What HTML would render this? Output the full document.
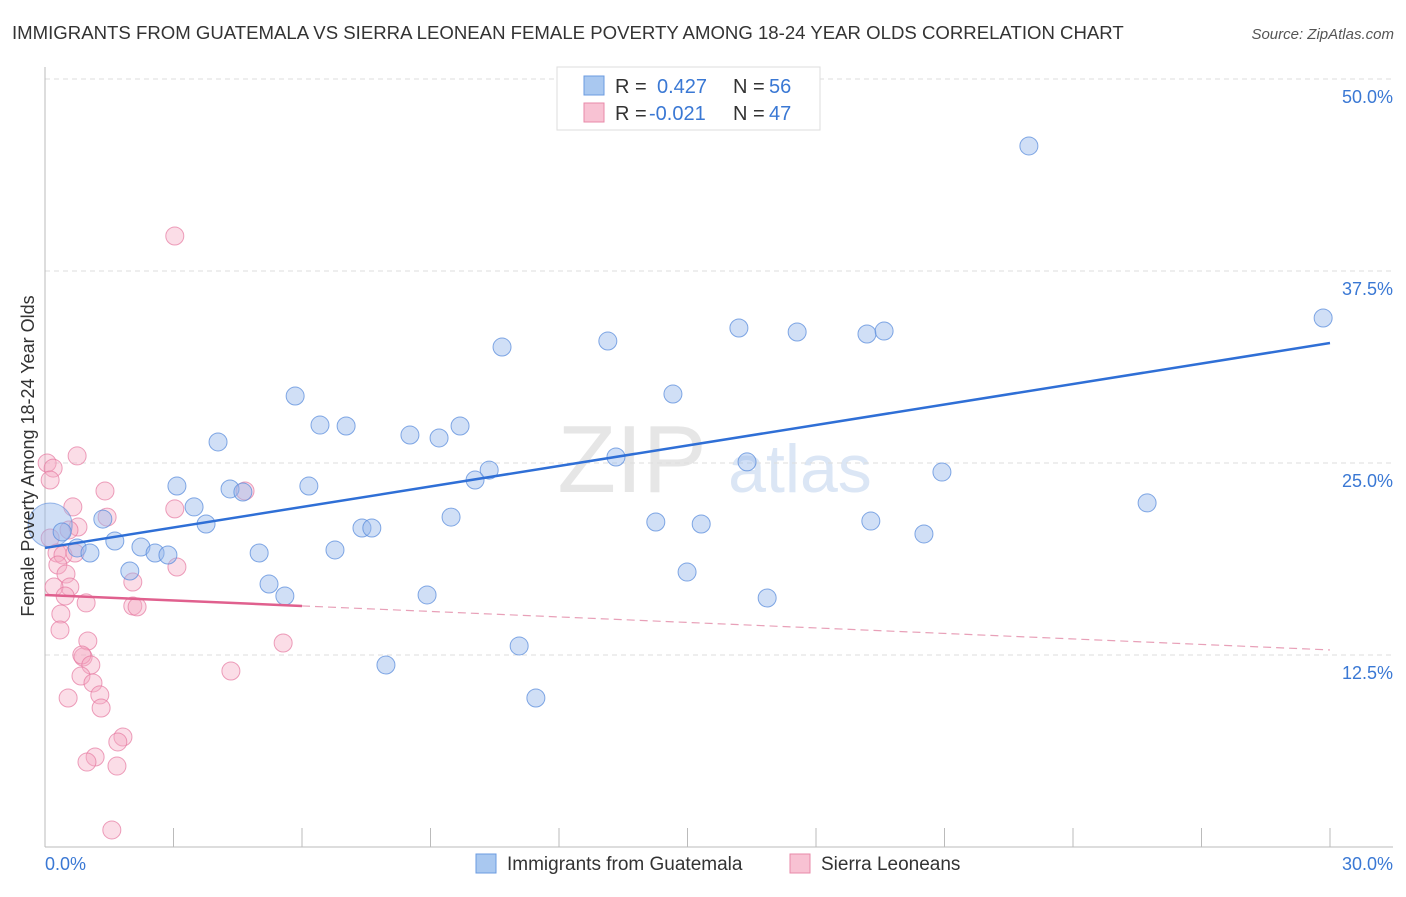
<!DOCTYPE html>
<html><head><meta charset="utf-8"><style>
body{margin:0;background:#fff;font-family:"Liberation Sans",sans-serif}
svg text{font-family:"Liberation Sans",sans-serif}
</style></head><body>
<svg id="chart" width="1406" height="892">
<text x="12" y="39" font-size="18.6" fill="#333">IMMIGRANTS FROM GUATEMALA VS SIERRA LEONEAN FEMALE POVERTY AMONG 18-24 YEAR OLDS CORRELATION CHART</text>
<text x="1394" y="39" font-size="15" fill="#555" font-style="italic" text-anchor="end">Source: ZipAtlas.com</text>
<text x="632" y="492" font-size="96" fill="#e6e6e6" font-family="Liberation Serif" text-anchor="middle">ZIP</text>
<text x="800" y="492" font-size="68" fill="#dbe6f5" text-anchor="middle">atlas</text>
<g id="grid"></g>
<g id="axes"></g>
<g id="marks"></g>
<text transform="translate(34,456) rotate(-90)" font-size="18" fill="#333" text-anchor="middle">Female Poverty Among 18-24 Year Olds</text>
<g>
<rect x="557" y="67" width="263" height="63" fill="#fff" stroke="#ddd"/>
<rect x="584" y="76" width="20" height="19" fill="#a9c8f0" stroke="#6b9be0"/>
<text x="615" y="93" font-size="20" fill="#333">R =</text>
<text x="657" y="93" font-size="20" fill="#3a78d4">0.427</text>
<text x="733" y="93" font-size="20" fill="#333">N =</text>
<text x="769" y="93" font-size="20" fill="#3a78d4">56</text>
<rect x="584" y="103" width="20" height="19" fill="#f8c2d3" stroke="#e88aa8"/>
<text x="615" y="120" font-size="20" fill="#333">R =</text>
<text x="649" y="120" font-size="20" fill="#3a78d4">-0.021</text>
<text x="733" y="120" font-size="20" fill="#333">N =</text>
<text x="769" y="120" font-size="20" fill="#3a78d4">47</text>
</g>
<g>
<rect x="476" y="854" width="20" height="19" fill="#a9c8f0" stroke="#6b9be0"/>
<text x="507" y="870" font-size="19" fill="#333">Immigrants from Guatemala</text>
<rect x="790" y="854" width="20" height="19" fill="#f8c2d3" stroke="#e88aa8"/>
<text x="821" y="870" font-size="19" fill="#333">Sierra Leoneans</text>
</g>
</svg>
<script>
const yTicks=[12.5,25.0,37.5,50.0];
const xTickLabels=["0.0%","30.0%"];
const blueX=[22.97,29.84,16.20,17.56,19.19,19.59,13.14,10.67,14.66,5.84,6.42,7.03,9.69,8.52,9.20,4.04,13.33,16.39,20.94,10.37,10.04,3.08,6.16,4.32,4.62,3.48,25.73,1.35,3.76,9.48,14.26,15.32,19.28,7.40,7.63,20.52,0.40,1.63,2.24,2.57,2.87,0.75,1.05,5.00,6.77,1.98,14.99,5.23,5.60,8.92,16.86,11.07,7.96,11.46];
const blueY=[45.64,34.44,33.79,33.53,33.40,33.59,32.94,32.55,29.49,29.36,27.47,27.41,27.41,26.82,26.63,26.37,25.39,25.07,24.41,24.54,23.89,23.50,23.50,23.31,23.11,22.14,22.40,21.35,21.03,21.48,21.16,21.03,21.22,20.77,20.77,20.38,20.51,19.92,19.53,19.14,19.01,19.47,19.14,19.14,19.34,17.97,17.90,17.12,16.34,16.41,16.21,13.09,11.85,9.70];
const pinkX=[3.03,0.05,0.19,0.12,0.75,1.40,0.65,1.45,0.77,3.03,4.67,0.56,0.12,0.28,0.42,0.70,0.30,0.49,0.58,0.21,0.47,0.96,2.05,3.08,2.05,2.15,0.37,0.35,1.00,0.89,0.86,1.07,0.84,1.12,0.54,1.28,1.31,5.56,4.34,1.82,1.70,1.17,0.98,1.68,1.56];
const pinkY=[39.78,25.00,24.67,23.89,25.46,23.18,22.14,21.48,20.83,22.01,23.18,20.64,20.12,19.14,19.01,19.14,18.36,17.77,16.93,16.93,16.34,15.89,17.25,18.23,15.69,15.63,15.17,14.13,13.41,12.37,12.50,11.85,11.13,10.68,9.70,9.90,9.05,13.28,11.46,7.16,6.84,5.86,5.53,5.27,1.11];
const blueTrend=[19.47,32.81];
const pinkTrend=[16.41,12.83];
const pinkSolidEnd=[6.0];
const bigBlue=[[0.12,20.96]];
const NS="http://www.w3.org/2000/svg";
const sx=v=>45+v/30*1285, sy=v=>847-v/50*768;
function mk(t,a,p){const e=document.createElementNS(NS,t);for(const k in a)e.setAttribute(k,a[k]);p.appendChild(e);return e;}
const grid=document.getElementById('grid'),axes=document.getElementById('axes'),marks=document.getElementById('marks');
yTicks.forEach(t=>{
 const l=mk('line',{x1:45,x2:1393,y1:sy(t),y2:sy(t),stroke:'#ddd','stroke-dasharray':'5,4'},grid);
 
 
 const tx=mk('text',{x:1393,y:sy(t)+24,'font-size':18,fill:'#3a78d4','text-anchor':'end'},axes);
 tx.textContent=t.toFixed(1)+'%';
 
 
});
mk('line',{x1:45,x2:45,y1:67,y2:847,stroke:'#bbb'},axes);
mk('line',{x1:45,x2:1393,y1:847,y2:847,stroke:'#bbb'},axes);
for(let i=0;i<=10;i++){const x=sx(i*3);mk('line',{x1:x,x2:x,y1:828,y2:847,stroke:'#bbb'},axes);}
xTickLabels.forEach((s,i)=>{
 const tx=mk('text',{x:i?1393:45,y:870,'font-size':18,fill:'#3a78d4','text-anchor':i?'end':'start'},axes);
 tx.textContent=s;
 
 
});
pinkX.forEach((x,i)=>{
 const c=mk('circle',{cx:sx(x),cy:sy(pinkY[i]),r:9,fill:'rgba(245,170,195,0.4)',stroke:'rgba(230,120,160,0.7)'},marks);
 
 
});
bigBlue.forEach(p=>{
 const c=mk('circle',{cx:sx(p[0]),cy:sy(p[1]),r:22,fill:'rgba(150,185,235,0.45)',stroke:'rgba(90,140,220,0.6)'},marks);
 
 
});
blueX.forEach((x,i)=>{
 const c=mk('circle',{cx:sx(x),cy:sy(blueY[i]),r:9,fill:'rgba(150,185,235,0.45)',stroke:'rgba(90,140,220,0.75)'},marks);
 
 
});
const pAt=x=>pinkTrend[0]+(pinkTrend[1]-pinkTrend[0])*x/30;
let l=mk('line',{x1:sx(0),y1:sy(blueTrend[0]),x2:sx(30),y2:sy(blueTrend[1]),stroke:'#2f6fd6','stroke-width':2.5},marks);


l=mk('line',{x1:sx(0),y1:sy(pAt(0)),x2:sx(pinkSolidEnd[0]),y2:sy(pAt(pinkSolidEnd[0])),stroke:'#e0608e','stroke-width':2.5},marks);


l=mk('line',{x1:sx(pinkSolidEnd[0]),y1:sy(pAt(pinkSolidEnd[0])),x2:sx(30),y2:sy(pAt(30)),stroke:'#e8a0b8','stroke-width':1.2,'stroke-dasharray':'8,5'},marks);


</script>
</body></html>
